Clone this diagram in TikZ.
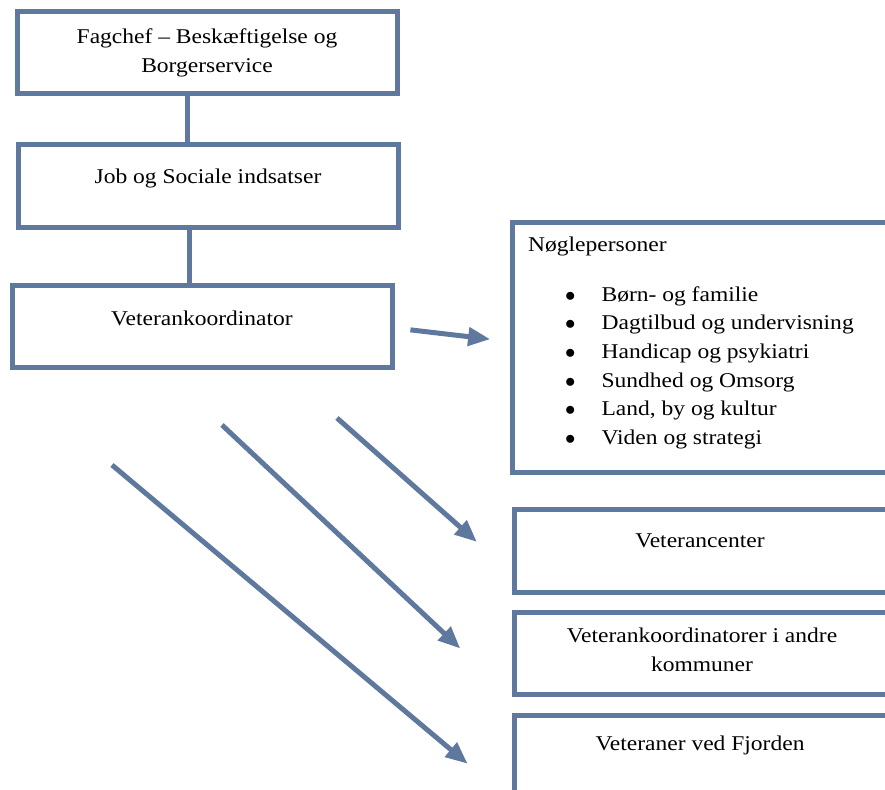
\documentclass[tikz,border=0pt]{standalone}
\usepackage{fontspec}
\setmainfont[FakeStretch=1.12]{Liberation Serif}
\usetikzlibrary{arrows.meta,calc}
\definecolor{frame}{RGB}{95,120,158}
\tikzset{
  box/.style={draw=frame, line width=5pt, rectangle, inner sep=0pt},
  txt/.style={font=\fontsize{21}{29.5}\selectfont, align=center, inner sep=0pt},
  link/.style={draw=frame, line width=5pt},
  pil/.style={draw=frame, line width=5pt, -{Triangle[length=22pt,width=18pt]}}
}

\begin{document}
\begin{tikzpicture}[x=1pt,y=-1pt]
\useasboundingbox (0,0) rectangle (885,789);
\clip (0,0) rectangle (885,789);

\node[box, minimum width=380pt, minimum height=82pt] (fagchef) at (207,53) {};
\node[box, minimum width=380pt, minimum height=83pt] (job) at (208,186) {};
\node[box, minimum width=380pt, minimum height=82pt] (vk) at (202,326) {};
\node[box, anchor=north west, minimum width=420pt, minimum height=250pt] (ng) at (510,220) {};
\node[box, anchor=north west, minimum width=420pt, minimum height=83pt] (vc) at (512,507) {};
\node[box, anchor=north west, minimum width=420pt, minimum height=82pt] (vko) at (512,610) {};
\node[box, anchor=north west, minimum width=420pt, minimum height=83pt] (vf) at (512,713) {};

\node[txt] (fagtxt) at (207,53) {Fagchef – Beskæftigelse og\\Borgerservice};
\node[txt] (jobtxt) at (208,178) {Job og Sociale indsatser};
\node[txt] (vktxt) at (202,318) {Veterankoordinator};
\node[txt, anchor=west] (ngtitle) at (528,246) {Nøglepersoner};
\node[txt, anchor=north west, font=\fontsize{21}{28.6}\selectfont] (nglist) at (565,281) {%
\begin{tabular}{@{}l@{\hspace{26pt}}l@{}}
$\bullet$ & Børn- og familie\\
$\bullet$ & Dagtilbud og undervisning\\
$\bullet$ & Handicap og psykiatri\\
$\bullet$ & Sundhed og Omsorg\\
$\bullet$ & Land, by og kultur\\
$\bullet$ & Viden og strategi
\end{tabular}};
\node[txt] (vctxt) at (700,541) {Veterancenter};
\node[txt] (vkotxt) at (702,650) {Veterankoordinatorer i andre\\kommuner};
\node[txt] (vftxt) at (700,745) {Veteraner ved Fjorden};

\draw[link] ([xshift=-20pt]fagchef.south) -- ([xshift=-21pt]job.north);
\draw[link] ([xshift=-19pt]job.south) -- ([xshift=-13pt]vk.north);

\coordinate (s1) at (337,418);
\coordinate (s2) at (222,425);
\coordinate (s3) at (112,465);
\draw[pil, shorten <=16pt, shorten >=20pt] ([yshift=-2pt]vk.east) -- ([yshift=6pt]ng.west);
\draw[pil, shorten >=47pt] (s1) -- ($(vc.west)!0.5!(vc.south west)$);
\draw[pil, shorten >=71pt] (s2) -- (vko.south west);
\draw[pil, shorten >=58pt] (s3) -- (vf.south west);
\end{tikzpicture}
\end{document}
